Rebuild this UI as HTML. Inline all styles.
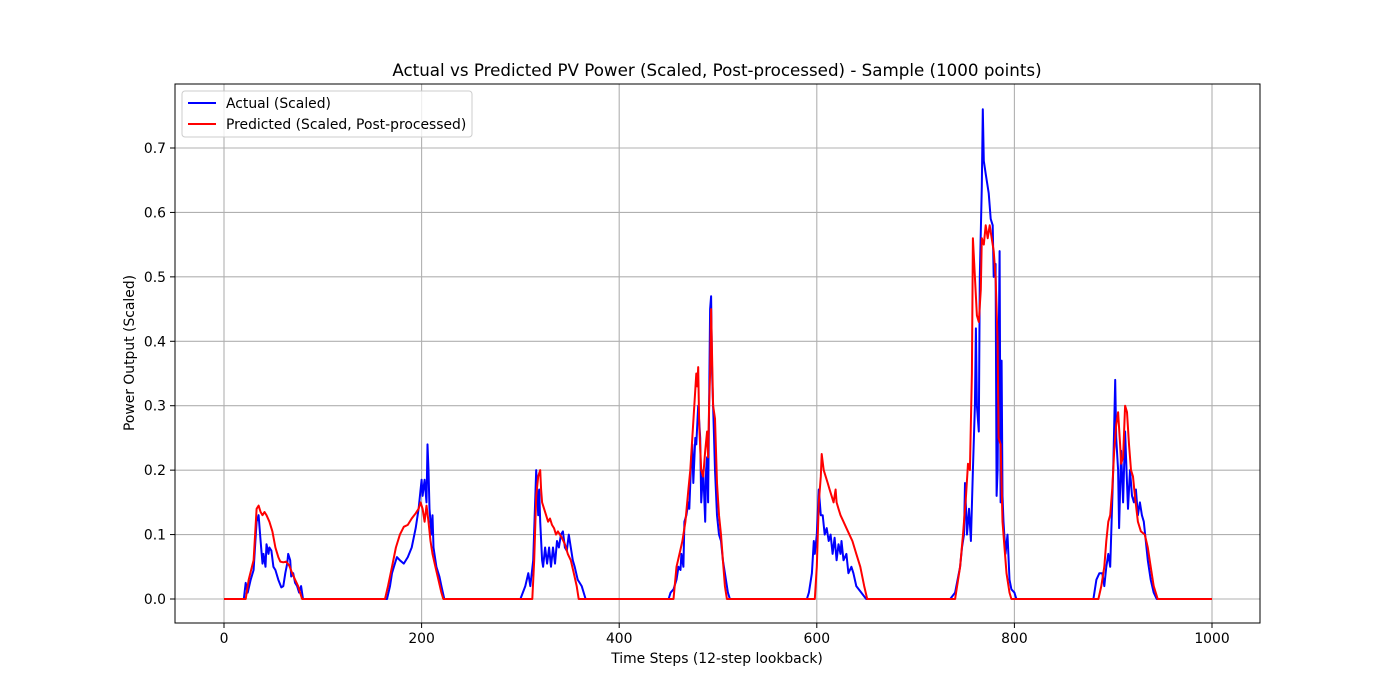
<!DOCTYPE html>
<html><head><meta charset="utf-8"><style>
html,body{margin:0;padding:0;background:#fff;}
svg{display:block;font-family:"DejaVu Sans","Liberation Sans",sans-serif;}
</style></head><body>
<svg id="chart" width="1400" height="700">
<rect x="0" y="0" width="1400" height="700" fill="#fff"/>
<text x="717" y="76" text-anchor="middle" font-size="16.7">Actual vs Predicted PV Power (Scaled, Post-processed) - Sample (1000 points)</text>
<g id="grid"></g>
<g id="series"></g>
<rect x="175" y="84" width="1085" height="539" fill="none" stroke="#000" stroke-width="1"/>
<g id="ticks"></g>
<text x="717" y="663" text-anchor="middle" font-size="13.9">Time Steps (12-step lookback)</text>
<text transform="translate(134,353) rotate(-90)" text-anchor="middle" font-size="13.9">Power Output (Scaled)</text>
<g>
<rect x="182" y="91" width="290" height="46" rx="3" fill="#fff" fill-opacity="0.8" stroke="#ccc"/>
<g><line x1="188" y1="103" x2="216" y2="103" stroke="#0000ff" stroke-width="2"/><text x="226" y="108" font-size="13.9">Actual (Scaled)</text></g>
<g><line x1="188" y1="124" x2="216" y2="124" stroke="#ff0000" stroke-width="2"/><text x="226" y="129" font-size="13.9">Predicted (Scaled, Post-processed)</text></g>
</g>
</svg>
<script>
const xTicks=[0,200,400,600,800,1000];
const yTicks=[0,0.1,0.2,0.3,0.4,0.5,0.6,0.7];
const yTickLabels=["0.0","0.1","0.2","0.3","0.4","0.5","0.6","0.7"];
const actualX=[0,20,22,24,27,30,33,35,37,39,40,42,43,45,46,48,50,52,55,58,60,62,64,65,66,67,68,70,72,74,76,78,80,165,168,170,172,175,178,182,186,190,194,197,199,200,201,203,205,206,207,208,210,211,212,215,218,220,223,300,305,308,310,313,316,318,319,320,322,323,325,327,329,331,333,335,337,339,341,343,345,347,349,351,353,355,358,360,362,366,450,452,455,458,460,462,463,465,466,468,470,471,473,474,475,477,478,480,482,483,485,487,488,489,490,492,493,494,495,497,499,501,503,505,507,510,512,590,592,595,597,598,600,602,604,606,608,610,612,614,616,618,620,622,624,625,627,630,632,635,637,640,645,650,735,740,745,747,749,750,752,754,756,758,760,761,762,764,765,767,768,769,771,774,776,778,779,781,782,783,785,786,787,788,789,791,793,795,797,800,802,880,883,886,889,891,893,895,897,898,900,902,903,905,906,908,910,912,914,915,917,919,921,923,925,927,929,931,933,935,938,941,944,1000];
const actualY=[0,0,0.025,0.01,0.03,0.045,0.12,0.13,0.09,0.055,0.07,0.05,0.085,0.07,0.08,0.075,0.05,0.045,0.03,0.018,0.02,0.04,0.055,0.07,0.065,0.06,0.035,0.04,0.025,0.02,0.01,0.02,0,0,0.02,0.04,0.05,0.065,0.06,0.055,0.065,0.08,0.11,0.14,0.17,0.185,0.16,0.185,0.15,0.24,0.2,0.14,0.1,0.13,0.08,0.05,0.035,0.02,0,0,0.02,0.04,0.02,0.06,0.2,0.13,0.17,0.12,0.06,0.05,0.08,0.055,0.08,0.05,0.08,0.055,0.09,0.08,0.1,0.105,0.08,0.075,0.1,0.08,0.06,0.05,0.03,0.025,0.02,0,0,0.01,0.015,0.03,0.05,0.045,0.07,0.05,0.12,0.13,0.15,0.14,0.22,0.24,0.18,0.25,0.24,0.3,0.25,0.15,0.2,0.12,0.2,0.22,0.15,0.45,0.47,0.35,0.3,0.2,0.13,0.1,0.09,0.06,0.04,0.01,0,0,0.01,0.04,0.09,0.07,0.1,0.17,0.13,0.13,0.1,0.11,0.09,0.1,0.07,0.095,0.06,0.085,0.07,0.09,0.06,0.07,0.04,0.05,0.04,0.02,0.01,0,0,0.01,0.05,0.08,0.1,0.18,0.1,0.14,0.09,0.2,0.3,0.42,0.3,0.26,0.5,0.64,0.76,0.68,0.66,0.63,0.59,0.58,0.5,0.52,0.16,0.2,0.54,0.15,0.37,0.16,0.12,0.07,0.1,0.03,0.015,0.01,0,0,0.03,0.04,0.04,0.02,0.05,0.07,0.05,0.1,0.2,0.34,0.25,0.2,0.11,0.23,0.15,0.26,0.18,0.14,0.2,0.16,0.15,0.17,0.13,0.15,0.13,0.12,0.09,0.06,0.03,0.01,0,0];
const predX=[0,22,25,30,33,35,37,39,41,43,46,49,52,55,57,60,63,66,69,72,75,77,79,163,166,170,174,178,182,186,190,194,197,199,201,203,205,207,209,211,214,217,220,222,312,314,316,318,320,321,322,324,326,328,330,332,334,336,338,340,342,345,348,351,354,357,359,455,458,461,464,467,470,472,474,476,478,479,480,481,483,485,487,489,490,491,492,493,495,497,499,501,503,505,507,509,598,600,602,604,605,607,609,611,613,615,617,619,620,622,624,627,630,633,636,640,644,648,651,740,742,745,748,751,753,755,757,758,760,762,764,766,767,769,771,773,775,777,779,781,783,784,786,788,790,792,795,797,885,888,891,893,895,897,899,901,903,905,907,908,910,912,914,916,918,920,922,925,928,932,935,938,941,945,1000];
const predY=[0,0,0.03,0.06,0.14,0.145,0.135,0.13,0.135,0.13,0.12,0.105,0.08,0.065,0.058,0.057,0.058,0.052,0.04,0.03,0.02,0.01,0,0,0.02,0.05,0.08,0.1,0.112,0.115,0.125,0.133,0.14,0.15,0.14,0.12,0.145,0.12,0.09,0.07,0.05,0.03,0.01,0,0,0.06,0.16,0.19,0.2,0.17,0.15,0.14,0.13,0.12,0.125,0.115,0.11,0.1,0.105,0.1,0.095,0.085,0.07,0.06,0.04,0.02,0,0,0.05,0.07,0.09,0.12,0.17,0.2,0.25,0.3,0.35,0.33,0.36,0.27,0.2,0.19,0.23,0.26,0.22,0.3,0.35,0.45,0.3,0.28,0.18,0.13,0.1,0.06,0.02,0,0,0.05,0.15,0.19,0.225,0.2,0.19,0.18,0.17,0.16,0.15,0.17,0.15,0.14,0.13,0.12,0.11,0.1,0.09,0.07,0.05,0.02,0,0,0.02,0.05,0.1,0.16,0.21,0.2,0.35,0.56,0.5,0.44,0.43,0.48,0.56,0.55,0.58,0.56,0.58,0.56,0.54,0.5,0.4,0.25,0.24,0.12,0.08,0.04,0.01,0,0,0.02,0.05,0.09,0.12,0.13,0.17,0.23,0.27,0.29,0.24,0.21,0.22,0.3,0.29,0.24,0.2,0.19,0.16,0.12,0.105,0.1,0.08,0.05,0.02,0,0];

const NS="http://www.w3.org/2000/svg";
const X0=224,XS=(1212-224)/1000,Y0=599,YS=(599-148)/0.7;
function sx(v){return X0+v*XS;}
function sy(v){return Y0-v*YS;}
const grid=document.getElementById('grid'),ticks=document.getElementById('ticks'),series=document.getElementById('series');
function mk(tag,attrs,parent){const e=document.createElementNS(NS,tag);for(const k in attrs)e.setAttribute(k,attrs[k]);parent.appendChild(e);return e;}
xTicks.forEach(t=>{
  const gl=mk('line',{x1:sx(t),x2:sx(t),y1:84,y2:623,stroke:'#b0b0b0','stroke-width':1.1},grid);
  
  
  mk('line',{x1:sx(t),x2:sx(t),y1:623,y2:628,stroke:'#000'},ticks);
  const tx=mk('text',{x:sx(t),y:643,'text-anchor':'middle','font-size':13.9},ticks);
  tx.textContent=String(t);
  
  
});
yTicks.forEach((t,i)=>{
  const gl=mk('line',{x1:175,x2:1260,y1:sy(t),y2:sy(t),stroke:'#b0b0b0','stroke-width':1.1},grid);
  
  
  mk('line',{x1:170,x2:175,y1:sy(t),y2:sy(t),stroke:'#000'},ticks);
  const tx=mk('text',{x:166,y:sy(t)+5,'text-anchor':'end','font-size':13.9},ticks);
  tx.textContent=yTickLabels[i];
  
  
});
function line(xs,ys){
  return xs.map((x,i)=>sx(x).toFixed(1)+','+sy(ys[i]).toFixed(1)).join(' ');
}
const a=mk('polyline',{points:line(actualX,actualY),fill:'none',stroke:'#0000ff','stroke-width':2,'stroke-linejoin':'round'},series);


const p=mk('polyline',{points:line(predX,predY),fill:'none',stroke:'#ff0000','stroke-width':2,'stroke-linejoin':'round'},series);


</script>
</body></html>
